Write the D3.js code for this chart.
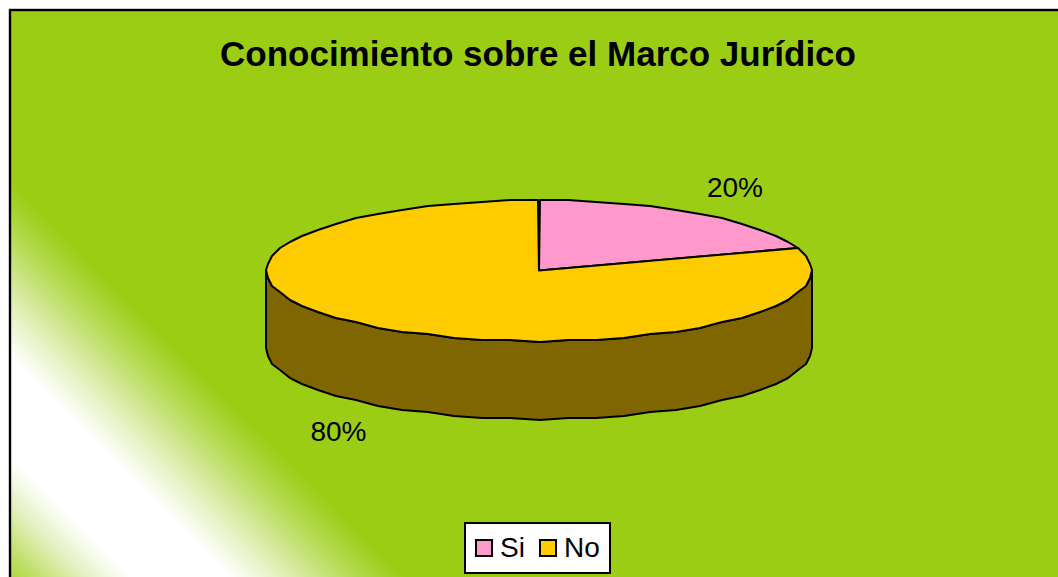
<!DOCTYPE html>
<html>
<head>
<meta charset="utf-8">
<title>Conocimiento sobre el Marco Jurídico</title>
<script src="https://d3js.org/d3.v7.min.js"></script>
<style>
	body { margin: 0; background: white; }
	svg { display: block; }
	text { font-family: "Liberation Sans", Arial, sans-serif; fill: black; }
</style>
</head>
<body>
<svg width="1058" height="577"></svg>
<script>
	var chartTitle = "Conocimiento sobre el Marco Jurídico";
	var categories = ["Si", "No"];
	var values = [20, 80];
	var colors = ["#ff99cc", "#ffcc00"];

	var svg = d3.select("svg");

	// diagonal white band over the green background, lightly eased at the edges
	var grad = svg.append("defs").append("linearGradient")
		.attr("id", "bg")
		.attr("gradientUnits", "userSpaceOnUse")
		.attr("x1", 0).attr("y1", 170)
		.attr("x2", -215).attr("y2", 385);
	var mix = d3.interpolateRgb("#9acd14", "#ffffff");
	var bandIn = 0.42, bandOut = 0.64;
	d3.range(0, 1.001, 0.02).forEach(function (o) {
		var k = o < bandIn ? o / bandIn : o > bandOut ? (1 - o) / (1 - bandOut) : 1;
		grad.append("stop")
			.attr("offset", o)
			.attr("stop-color", mix(0.75 * k + 0.25 * d3.easeSinInOut(k)));
	});

	svg.append("rect")
		.attr("x", 10).attr("y", 10)
		.attr("width", 1100).attr("height", 620)
		.attr("fill", "url(#bg)")
		.attr("stroke", "black")
		.attr("stroke-width", 2.4);

	svg.append("text")
		.attr("x", 538).attr("y", 66)
		.attr("text-anchor", "middle")
		.style("font-size", "35px")
		.style("font-weight", "bold")
		.text(chartTitle);

	// the pie is a tilted disc: unit circle mapped to the ellipse
	var px = d3.scaleLinear().domain([-1, 1]).range([266, 812]);
	var py = d3.scaleLinear().domain([-1, 1]).range([200, 341]);
	var depth = 78;
	var color = d3.scaleOrdinal().domain(categories).range(colors);

	var arcs = d3.pie().sort(null)(values);
	var step = 6 * Math.PI / 180;
	var snap = 2; // grid of the jagged outline

	// outline is a coarse polygon, snapped to a grid like the original
	function rim(a0, a1) {
		var n = Math.max(1, Math.round((a1 - a0) / step));
		return d3.range(n + 1).map(function (i) {
			var a = a0 + (a1 - a0) * i / n;
			var x = px(Math.sin(a)), y = py(-Math.cos(a));
			return [Math.round((x - 266) / snap) * snap + 266, Math.round((y - 200) / snap) * snap + 200];
		});
	}
	var line = d3.line();

	// side wall, front half of the disc only
	var front = rim(Math.PI / 2, 3 * Math.PI / 2);
	var wall = front.concat(front.slice().reverse().map(function (p) { return [p[0], p[1] + depth]; }));
	svg.append("path")
		.attr("d", line(wall) + "Z")
		.attr("fill", "#806600")
		.attr("stroke", "black")
		.attr("stroke-width", 2)
		.attr("stroke-linejoin", "round");

	svg.selectAll("path.slice").data(arcs).enter().append("path")
		.attr("class", "slice")
		.attr("d", function (d) {
			return line([[px(0), py(0)]].concat(rim(d.startAngle, d.endAngle))) + "Z";
		})
		.attr("fill", function (d, i) { return color(categories[i]); })
		.attr("stroke", "black")
		.attr("stroke-width", 2)
		.attr("stroke-linejoin", "round");

	// data labels
	var labelPos = [[735, 197], [338.5, 441]];
	svg.selectAll("text.pct").data(values).enter().append("text")
		.attr("class", "pct")
		.attr("x", function (d, i) { return labelPos[i][0]; })
		.attr("y", function (d, i) { return labelPos[i][1]; })
		.attr("text-anchor", "middle")
		.style("font-size", "28px")
		.text(function (d) { return d + "%"; });

	// legend
	var leg = svg.append("g");
	leg.append("rect")
		.attr("x", 465).attr("y", 523)
		.attr("width", 145).attr("height", 50)
		.attr("fill", "white")
		.attr("stroke", "black")
		.attr("stroke-width", 2);
	var swatchX = [476, 540];
	categories.forEach(function (c, i) {
		leg.append("rect")
			.attr("x", swatchX[i]).attr("y", 540)
			.attr("width", 16).attr("height", 16)
			.attr("fill", color(c))
			.attr("stroke", "black")
			.attr("stroke-width", 2);
		leg.append("text")
			.attr("x", swatchX[i] + 24).attr("y", 557)
			.style("font-size", "28px")
			.text(c);
	});
</script>
</body>
</html>
